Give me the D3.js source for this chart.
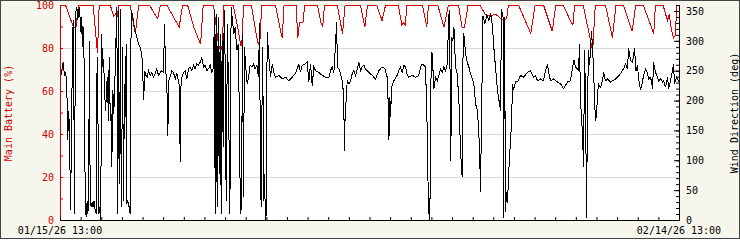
<!DOCTYPE html>
<html>
<head>
<meta charset="utf-8">
<script src="https://cdn.jsdelivr.net/npm/d3@7"></script>
<style>
body { margin: 0; background: #fff; }
svg text { font-family: "DejaVu Sans Mono", monospace; font-size: 10px; }
</style>
</head>
<body>
<svg id="chart"></svg>
<script>
const width = 740
const height = 240

// hours since 01/15/26 13:00
const startTime = new Date(2026, 0, 15, 13, 0)
const spanHours = 720
const timeLabels = ["01/15/26 13:00", "02/14/26 13:00"]
const leftTicks = [0, 10, 20, 30, 40, 50, 60, 70, 80, 90, 100]
const leftLabels = [0, 20, 40, 60, 80, 100]
const rightTicks = d3.range(0, 361, 10)
const rightLabels = [0, 50, 100, 150, 200, 250, 300, 350]

// [hour, main battery %]
const batteryPoints = [
  [0,100],[6,100],[14,91],[15,90],[18,90],[21,100],
  [38,100],[43,78],[45,100],
  [58,100],[62,95],[64,96],[66,95],[68,100],
  [81,100],[87,87],[91,100],
  [104,100],[108,97],[113,94],[116,100],
  [124,100],[131,95],[138,90],[142,100],
  [148,100],[155,90],[163,82],[166,100],
  [178,100],[183,84],[185,80],[186,82],[188,79],[190,100],
  [201,100],[206,90],[210,81],[211,83],[213,100],
  [222,100],[228,86],[230,82],[232,84],[234,100],
  [250,100],[256,88],[258,85],[260,100],
  [274,100],[276,85],[278,92],[282,92],[284,100],
  [299,100],[303,92],[305,90],[307,100],
  [322,100],[328,87],[331,100],
  [349,100],[354,90],[357,100],
  [368,100],[374,93],[378,100],
  [393,100],[397,91],[399,92],[401,91],[403,100],
  [421,100],[426,90],[428,100],
  [439,100],[446,90],[451,100],
  [463,100],[467,90],[470,90],[474,100],
  [488,100],[494,96],[500,95],[506,96],[512,94],[516,93],[519,94],[521,100],
  [533,100],[547,87],[552,100],
  [562,100],[572,88],[576,100],
  [585,100],[593,93],[596,91],[598,100],
  [608,100],[619,79],[622,100],
  [634,100],[642,85],[646,100],
  [655,100],[665,88],[669,100],
  [678,100],[690,87],[692,100],
  [701,100],[706,93],[708,96],[710,90],[713,85],[715,86],[717,100],[720,100]
]

// [hour, wind direction deg]
const windPoints = [
  [0,240],[1.5,251],[3.1,265],[4.6,243],[6.2,248],[7.7,201],[8.5,134],[9.3,184],[10.5,156],[11.6,17],
  [12.8,134],[14,313],[15.1,335],[16.3,11],[17.4,346],[19,357],[20.2,335],[20.9,352],[22.1,357],[23.3,324],
  [24,313],[24.8,340],[25.6,290],[26.7,324],[27.9,229],[28.7,33],[29.8,6],[31,33],[31.8,11],[32.6,28],
  [33.7,301],[34.5,33],[35.7,22],[36.8,31],[38,22],[39.1,33],[40.3,17],[41.5,11],[42.6,273],[43.8,145],
  [44.6,11],[45.7,22],[46.9,0],[47.7,313],[48.5,279],[49.2,257],[50,271],[51.2,223],[52.3,184],[53.1,201],
  [54.3,240],[55,212],[55.8,167],[56.6,273],[57.4,207],[58.1,167],[58.9,179],[59.7,89],[60.9,218],[62,179],
  [63.6,251],[65.5,357],[66.7,11],[67.5,352],[68.6,61],[69.8,354],[70.6,22],[71.3,89],[72.1,290],[73.3,33],
  [74.4,229],[75.2,173],[76.4,296],[77.2,28],[78.3,33],[79.9,22],[81,11],[82.2,352],[83.7,346],[85.3,329],
  [86.8,318],[88.8,307],[90.7,296],[92.7,290],[94.6,279],[95.8,240],[96.9,201],[97.7,251],[99.2,243],[100.8,240],
  [102.3,251],[104.3,243],[106.2,248],[108.2,240],[110.1,246],[112,254],[114,243],[115.9,248],[117.9,251],[119.8,248],
  [121,329],[122.1,257],[123.7,229],[124.8,142],[126,234],[128,243],[129.5,251],[131.4,248],[133.4,237],[135.3,246],
  [137.2,234],[138.4,223],[139.2,98],[140,223],[141.1,240],[143.1,248],[145,251],[147,237],[148.9,254],[150.8,257],
  [152.8,251],[154.7,260],[156.6,254],[158.6,262],[160.5,260],[162.4,265],[164.4,273],[166.3,257],[168.3,260],[170.2,251],
  [172.1,254],[174.1,260],[176,248],[178,257],[179.1,352],[179.9,11],[181,346],[182.2,22],[183.4,340],[184.5,78],
  [185.7,313],[186.9,11],[188,301],[189.2,123],[190.4,352],[191.5,268],[192.7,33],[194.2,329],[195.4,212],[197,11],
  [198.5,357],[200,335],[201.6,313],[203.2,324],[205.1,285],[207,296],[208.2,145],[209.3,11],[210.5,22],[211.7,313],
  [212.8,39],[214,290],[215.5,257],[217.1,229],[218.7,240],[220.6,260],[222.5,257],[224.5,262],[226.4,254],[228.4,260],
  [230.3,240],[231.5,330],[232.6,78],[233.4,22],[234.6,229],[235.3,290],[236.1,33],[237.3,78],[238.4,0],[239.3,10],
  [240.4,315],[242.4,273],[244.3,240],[246.3,262],[248.2,248],[250.1,240],[254,243],[257.9,237],[261.8,240],[265.6,234],
  [269.5,240],[273.4,246],[275.3,254],[277.3,262],[279.2,248],[281.1,260],[284.3,262],[287,265],[288.9,232],[290.8,262],
  [292.8,226],[294.7,257],[296.7,251],[300.5,248],[304.4,243],[308.3,240],[312.2,240],[314.1,251],[316,257],[318,248],
  [319.9,296],[321.1,332],[322.2,257],[323.8,254],[325.7,246],[328.4,229],[329.6,184],[330.4,117],[331.2,190],[332.3,201],
  [333.5,234],[335.4,229],[337.4,234],[339.3,246],[341.2,251],[343.2,243],[347.1,265],[349,251],[350.9,257],[352.9,260],
  [354.8,254],[358.7,248],[362.6,243],[366.4,237],[370.3,251],[374.2,257],[377.3,254],[380,240],[381.2,195],[382,134],
  [383.1,207],[383.9,173],[385.1,223],[387.8,234],[391.6,243],[393.6,251],[395.5,257],[397.5,248],[399.4,260],[401.3,257],
  [403.3,243],[405.2,240],[409.1,243],[413,240],[416.8,243],[418.8,257],[420.7,262],[422.7,260],[424.6,257],[426.5,156],
  [427.7,45],[428.9,0],[430,45],[431.2,282],[432.4,279],[434.3,220],[436.2,240],[438.2,234],[440.1,243],[442,254],
  [444,248],[445.9,257],[447.9,251],[449.8,262],[451,313],[452.1,352],[453.3,229],[454.1,100],[454.8,307],[456.4,301],
  [457.6,324],[459.5,257],[461.4,246],[463.4,201],[465.3,117],[467.2,73],[468.4,313],[469.6,307],[471.1,279],[473.1,265],
  [475,257],[476.9,246],[480.8,229],[482.8,195],[485,184],[487.5,120],[488.5,47],[491.4,343],[493.7,330],[496,345],
  [498.4,335],[500.2,347],[502.5,325],[503.7,296],[506,256],[508.3,218],[511.8,184],[513,354],[514.8,340],[515.3,5],
  [516.5,340],[517.6,15],[518.8,47],[520,30],[521.1,73],[523.4,134],[524.6,160],[525.8,229],[527,218],[529.3,232],
  [532.7,234],[535,243],[538.6,240],[543.2,248],[546.7,251],[550.2,240],[552.5,243],[554.8,234],[558.3,237],[561.8,234],
  [564.2,251],[566.5,262],[567.7,248],[570,234],[573.5,237],[578.1,232],[581.6,229],[585.1,221],[589.8,232],[593.2,234],
  [595.6,257],[597.3,268],[599.1,257],[601.4,254],[602.6,251],[603.7,296],[604.9,200],[607.2,145],[608.4,89],[609.6,285],
  [610.7,200],[611.9,5],[613,200],[614.2,285],[615.4,260],[616.6,290],[617.7,318],[620,257],[621.2,201],[622.3,167],
  [623.5,178],[624.7,212],[625.8,229],[628.1,223],[630.5,234],[631.6,248],[633.9,234],[636.3,237],[639.8,232],[642.1,234],
  [645.6,237],[648,240],[651.4,246],[654.9,254],[657.2,262],[659.6,254],[660.7,288],[663.1,268],[665.4,265],[667.7,288],
  [669.4,251],[671.2,260],[672.4,237],[674.7,218],[677.1,234],[678.2,243],[680.6,254],[682.9,246],[684.1,237],[686.4,240],
  [688.7,221],[689.8,265],[692.1,248],[694.5,240],[695.7,234],[698,237],[700.3,232],[701.4,234],[703.8,223],[706.1,240],
  [707.3,221],[709.6,234],[711.9,251],[713,262],[714.2,229],[716.5,240],[718.9,234],[720,237]
]

const margin = {top: 5, right: 61, bottom: 20, left: 60}
const plotW = width - margin.left - margin.right
const plotH = height - margin.top - margin.bottom

const hourToDate = h => new Date(startTime.getTime() + h * 3600e3)

const x = d3.scaleTime()
            .domain([startTime, hourToDate(spanHours)])
            .range([0, plotW])
const yLeft = d3.scaleLinear().domain([0, 100]).range([plotH, 0])
const yRight = d3.scaleLinear().domain([0, 360]).range([plotH, 0])

const svg = d3.select("#chart")
            .attr("width", width)
            .attr("height", height)

// page background and frame
svg.append("rect")
   .attr("x", 0.5).attr("y", 0.5)
   .attr("width", width - 1).attr("height", height - 2)
   .attr("fill", "#f7f6ec")
   .attr("stroke", "#444")

const g = svg.append("g").attr("transform", `translate(${margin.left},${margin.top})`)

g.append("rect")
 .attr("width", plotW).attr("height", plotH)
 .attr("fill", "#fff")

// horizontal grid from the battery scale
g.selectAll("line.grid")
 .data([20, 40, 60, 80])
 .enter()
 .append("line")
 .attr("class", "grid")
 .attr("x1", 1).attr("x2", plotW)
 .attr("y1", d => Math.round(yLeft(d)) + 0.5)
 .attr("y2", d => Math.round(yLeft(d)) + 0.5)
 .attr("stroke", "#d9d9d9")

const batteryLine = d3.line()
                .x(d => x(hourToDate(d[0])) + 0.5)
                .y(d => yLeft(d[1]) + 0.5)
const windLine = d3.line()
                .x(d => x(hourToDate(d[0])) + 0.5)
                .y(d => yRight(d[1]) + 0.5)

g.append("path")
 .datum(batteryPoints)
 .attr("d", batteryLine)
 .attr("fill", "none")
 .attr("stroke", "#dd0000")
 .attr("stroke-width", 1)
 .attr("shape-rendering", "crispEdges")

g.append("path")
 .datum(windPoints)
 .attr("d", windLine)
 .attr("fill", "none")
 .attr("stroke", "#000")
 .attr("stroke-width", 1)
 .attr("shape-rendering", "crispEdges")

// left axis (red)
const leftAxis = g.append("g")
    .call(d3.axisLeft(yLeft)
        .tickValues(leftTicks)
        .tickSize(-3)
        .tickSizeOuter(0)
        .tickPadding(6)
        .tickFormat(d => leftLabels.includes(d) ? d : ""))
leftAxis.selectAll("path, line").attr("stroke", "#cc0000")
leftAxis.selectAll("text").attr("fill", "#cc0000").style("font-family", "DejaVu Sans Mono").style("font-size", "10px")

// right axis: minor ticks, then labelled ones
const rightMinor = g.append("g")
    .attr("transform", `translate(${plotW},0)`)
    .call(d3.axisRight(yRight)
        .tickValues(rightTicks)
        .tickSize(-3)
        .tickSizeOuter(0)
        .tickFormat(""))
const rightAxis = g.append("g")
    .attr("transform", `translate(${plotW},0)`)
    .call(d3.axisRight(yRight)
        .tickValues(rightLabels)
        .tickSize(-5)
        .tickSizeOuter(0)
        .tickPadding(7))
rightAxis.selectAll("text").attr("fill", "#000").style("font-family", "DejaVu Sans Mono").style("font-size", "10px")

// bottom axis, one tick per day
const dayTicks = d3.range(0, spanHours + 1, 24).map(hourToDate)
g.append("g")
 .attr("transform", `translate(0,${plotH})`)
 .call(d3.axisBottom(x)
    .tickValues(dayTicks)
    .tickSize(-3)
    .tickSizeOuter(0)
    .tickFormat(""))

g.selectAll("text.time")
 .data(timeLabels)
 .enter()
 .append("text")
 .attr("class", "time")
 .attr("x", (d, i) => i === 0 ? x(startTime) : x(hourToDate(spanHours)))
 .attr("y", plotH + 14)
 .attr("text-anchor", "middle")
 .attr("fill", "#000")
 .text(d => d)

// axis titles
svg.append("text")
   .attr("transform", "translate(8,113) rotate(-90)")
   .attr("text-anchor", "middle")
   .attr("dominant-baseline", "central")
   .attr("fill", "#cc0000")
   .text("Main Battery (%)")

svg.append("text")
   .attr("transform", "translate(734,113) rotate(-90)")
   .attr("text-anchor", "middle")
   .attr("dominant-baseline", "central")
   .attr("fill", "#000")
   .text("Wind Direction (deg)")
</script>
</body>
</html>
